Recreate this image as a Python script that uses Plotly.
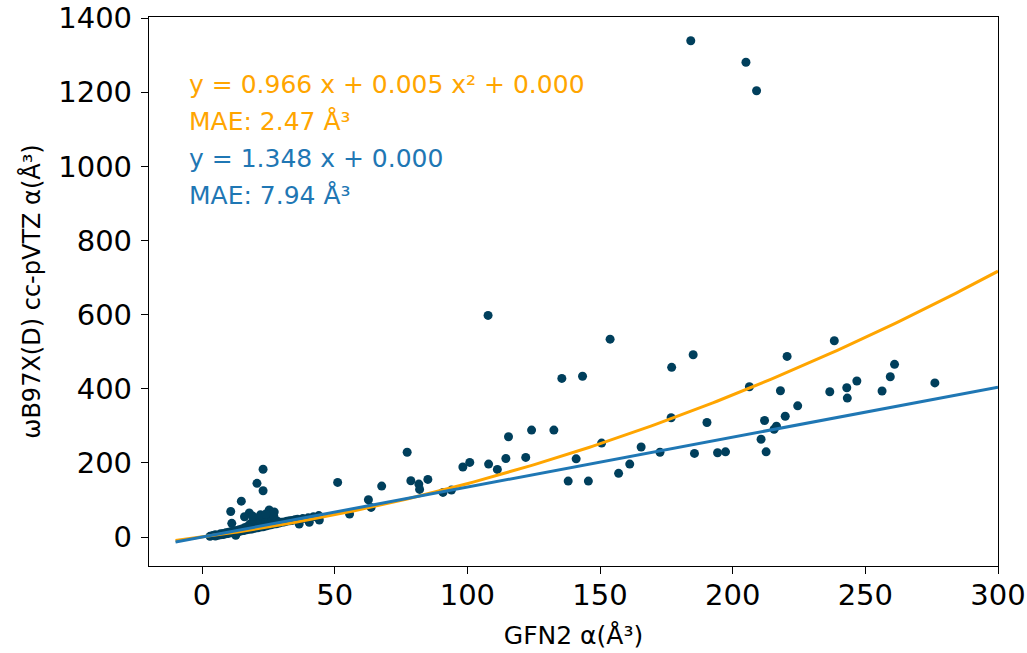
import numpy as np
import plotly.graph_objects as go

# GFN2 polarizabilities (x) and wB97X(D) cc-pVTZ polarizabilities (y), in Å^3
gfn2_alpha = [
    3, 4, 5, 5, 6, 7, 7, 8, 8, 9, 9, 10, 10, 11, 11, 12, 12, 12.7, 13, 13, 14, 14, 15, 15,
    16, 16, 17, 17, 18, 18, 19, 19, 20, 20, 21, 21, 22, 22, 23, 23, 24, 24, 25, 25, 26, 26,
    27, 27, 28, 28, 29, 30, 31, 32, 33, 34, 35, 36, 38, 40, 42, 44,
    10.8, 11.2, 14.8, 17.8, 20.7, 23, 23, 25.3, 27.2, 19, 22, 16, 24, 36.6, 40.4, 44.2,
    51.1, 55.6, 62.7, 63.7, 67.7, 77.3, 78.7, 81.7, 82, 85.1, 90.8, 94, 98.3, 100.9,
    108, 107.8, 111.3, 114.5, 115.5, 122, 124.2, 132.6, 135.6, 138, 141, 143.4, 145.6,
    150.6, 153.8, 157, 161.2, 165.5, 172.6, 176.8, 177, 184.2, 185.1, 185.6, 190.3,
    194.3, 197.3, 205, 206.3, 209, 210.7, 212, 212.6, 215.6, 216.5, 218, 219.8, 220.5,
    224.5, 236.6, 238.3, 243, 243.2, 246.8, 256.3, 259.4, 261, 276.2,
]
wb97xd_alpha = [
    2, 4, 3, 6, 5, 6, 9, 7, 10, 9, 12, 10, 13, 12, 15, 13, 16, 5, 14, 18, 15, 20, 17, 22,
    18, 25, 20, 28, 21, 35, 22, 40, 24, 45, 25, 50, 27, 38, 28, 55, 30, 42, 32, 48, 33, 40,
    35, 58, 36, 45, 38, 40, 41, 43, 44, 45, 47, 48, 50, 52, 55, 58,
    69, 37, 97, 65, 145, 183, 125, 73, 68, 57, 60, 55, 62, 35, 40, 46,
    147.5, 62, 100.6, 80, 137.6, 229, 152, 143, 128.6, 155.6, 120.6, 126.8, 189, 201.5,
    197, 598, 182.6, 212, 270.6, 215, 288.6, 288.6, 428, 151, 211, 434, 151,
    253.6, 534, 172, 197, 243, 229, 322, 458, 1339, 491.8, 225.8, 309,
    227.5, 230, 1281, 405.5, 1204, 264, 314.6, 230, 291, 299, 394.7, 326, 487.4,
    354, 392, 529.6, 403, 375, 421, 394, 432.5, 466, 416,
]

# fitted models
quad_a, quad_b, quad_c = 0.966, 0.00475, 0.0
lin_a, lin_b = 1.348, 0.0
fit_x_min, fit_x_max = -10, 300

quad_label = "y = 0.966 x + 0.005 x² + 0.000"
quad_mae = "MAE: 2.47 Å³"
lin_label = "y = 1.348 x + 0.000"
lin_mae = "MAE: 7.94 Å³"

x_title = "GFN2 α(Å³)"
y_title = "ωB97X(D) cc-pVTZ α(Å³)"

ORANGE = "#ffa500"
BLUE = "#1f77b4"
POINT = "#003f5c"
FONT = "DejaVu Sans"

xf = np.linspace(fit_x_min, fit_x_max, 200)
yq = quad_a * xf + quad_b * xf ** 2 + quad_c
yl = lin_a * xf + lin_b

fig = go.Figure()
fig.add_trace(go.Scatter(x=gfn2_alpha, y=wb97xd_alpha, mode="markers",
                         marker=dict(color=POINT, size=9, line=dict(width=0)),
                         showlegend=False))
fig.add_trace(go.Scatter(x=xf, y=yq, mode="lines", line=dict(color=ORANGE, width=3),
                         showlegend=False))
fig.add_trace(go.Scatter(x=xf, y=yl, mode="lines", line=dict(color=BLUE, width=3),
                         showlegend=False))

texts = [(quad_label, ORANGE, 0.877), (quad_mae, ORANGE, 0.8096),
         (lin_label, BLUE, 0.742), (lin_mae, BLUE, 0.6748)]
for t, c, yy in texts:
    fig.add_annotation(text=t, x=0.0445, y=yy, xref="paper", yref="paper",
                       xanchor="left", yanchor="middle", showarrow=False,
                       font=dict(family=FONT, size=25, color=c))

axis_common = dict(showgrid=False, zeroline=False, showline=True, linecolor="black",
                   linewidth=1.3, mirror=True, ticks="outside", ticklen=7, tickwidth=1.3,
                   tickcolor="black", automargin=False, ticklabeloverflow="allow",
                   tickfont=dict(family=FONT, size=29, color="black"))

fig.update_xaxes(range=[-20, 300], tickvals=[0, 50, 100, 150, 200, 250, 300],
                 ticklabelstandoff=-4,
                 title=dict(text=x_title, font=dict(family=FONT, size=25, color="black"),
                            standoff=15),
                 **axis_common)
fig.update_yaxes(range=[-78, 1403], tickvals=[0, 200, 400, 600, 800, 1000, 1200, 1400],
                 ticklabelstandoff=3,
                 title=dict(text=y_title, font=dict(family=FONT, size=24, color="black"),
                            standoff=10),
                 **axis_common)

fig.update_layout(width=1027, height=653, plot_bgcolor="white", paper_bgcolor="white",
                  margin=dict(l=149, r=29, t=17, b=87), showlegend=False)

# remove the default page margin so the figure fills the window exactly
fig.write_html("out.html", config={"displayModeBar": False},
               post_script="document.body.style.margin='0';")
